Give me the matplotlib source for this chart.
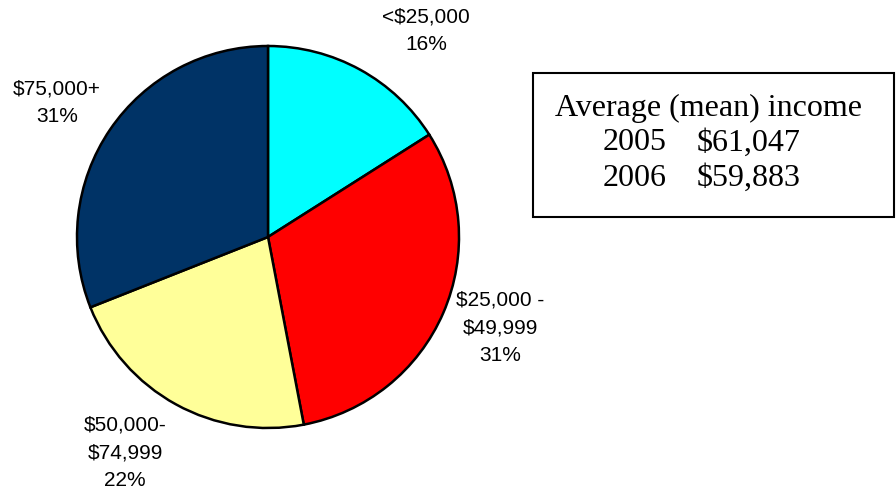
import numpy as np
import matplotlib.pyplot as plt
from matplotlib.patches import Rectangle

# household income brackets
brackets = ['<$25,000', '$25,000 -\n$49,999', '$50,000-\n$74,999', '$75,000+']
shares = [16, 31, 22, 31]
colors = ['#00FFFF', '#FF0000', '#FFFF99', '#003366']

years = [2005, 2006]
mean_income = [61047, 59883]

# label anchor points (pixels from top-left)
label_pos = [(426, 31), (500, 328), (125, 453), (57, 103)]

fig = plt.figure(figsize=(8.96, 4.92), dpi=100)
ax = fig.add_axes([0, 0, 1, 1])

labels = [f'{b}\n{s}%' for b, s in zip(brackets, shares)]
wedges, texts = ax.pie(shares, colors=colors, startangle=90, counterclock=False,
                       center=(268, 255), radius=191, frame=True,
                       labels=labels, labeldistance=1.33,
                       wedgeprops=dict(edgecolor='black', linewidth=1.8))
for t, (px, py) in zip(texts, label_pos):
    t.set_position((px, 492 - py))
    t.set_ha('center')
    t.set_va('center')
    t.set_fontsize(15)
    t.set_family('Liberation Sans')
    t.set_linespacing(1.57)
ax.set_xlim(0, 896)
ax.set_ylim(0, 492)
ax.set_aspect('equal')
ax.axis('off')

# summary box with mean income
fig.patches.append(Rectangle((533 / 896, 1 - 217 / 492), 361 / 896, 144 / 492,
                             transform=fig.transFigure, fill=False,
                             edgecolor='black', linewidth=1.5))
serif = dict(family='Liberation Serif', fontsize=23, va='center')
fig.text(555 / 896, 1 - 108 / 492, 'Average (mean) income', **serif)
for i, (yr, inc) in enumerate(zip(years, mean_income)):
    y = 1 - (143 + 35 * i) / 492
    fig.text(603 / 896, y, str(yr), **serif)
    fig.text(697 / 896, y, f'${inc:,}', **serif)

fig.savefig('out.png', dpi=100)
